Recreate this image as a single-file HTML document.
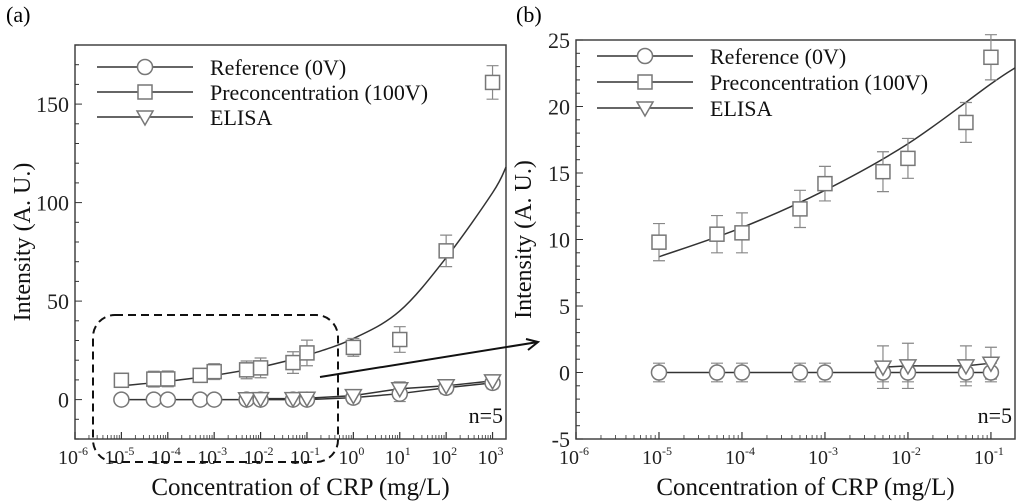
<!DOCTYPE html>
<html><head><meta charset="utf-8"><style>
html,body{margin:0;padding:0;background:#fff;}
svg{display:block;font-family:"Liberation Serif",serif;}
</style></head><body>
<svg id="chart" width="1024" height="504" viewBox="0 0 1024 504" xmlns="http://www.w3.org/2000/svg">
<text x="6" y="22" font-size="22">(a)</text>
<text x="516" y="22" font-size="22">(b)</text>
</svg>
<script>
// ---- data ----
const conc = [1e-5,5e-5,1e-4,5e-4,1e-3,5e-3,1e-2,5e-2,1e-1,1,10,100,1000];
const refVals = [0,0,0,0,0,0,0,0,0,1,3,6,8.5];
const refErr = [0.7,0.7,0.7,0.7,0.7,0.7,0.7,0.7,0.7,3,4,3,3];
const elisaConc = [5e-3,1e-2,5e-2,1e-1,1,10,100,1000];
const elisaVals = [0.4,0.5,0.5,0.7,2,5.5,7,9.5];
const elisaErrA = [3,3,3,3,3,3.5,3,3];
const elisaErrB = [1.6,1.7,1.5,1.2,3,3,3,3];
const preVals = [9.8,10.4,10.5,12.3,14.2,15.1,16.1,18.8,23.7,26.5,30.5,75.5,161];
const preErrA = [3.5,4,4,3.5,4,4.5,5,5.5,6.5,4.5,6.5,8,8.5];
const preErrB = [1.4,1.4,1.5,1.4,1.3,1.5,1.5,1.5,1.7,3,5,8,8.5];
const fitLogXA = [-5,-4,-3,-2,-1,0,1,2,3,3.29];
const fitValsA = [7,9.3,12.3,16.5,22.5,31,45,72,105,118];
const fitLogXB = [-5,-4,-3,-2,-1,-0.71];
const fitValsB = [8.7,10.9,13.7,17.2,21.7,22.9];
const tickA = [0,50,100,150];
const tickB = [-5,0,5,10,15,20,25];
const decadesA = [-6,-5,-4,-3,-2,-1,0,1,2,3];
const decadesB = [-6,-5,-4,-3,-2,-1];

const NS="http://www.w3.org/2000/svg";
const svg=document.getElementById('chart');
function mk(tag,attrs,parent){const e=document.createElementNS(NS,tag);for(const k in attrs)e.setAttribute(k,attrs[k]);(parent||svg).appendChild(e);return e;}

function panel(cfg){
  const g=mk('g',{});
  
  
  const X=v=>cfg.x0+(Math.log10(v)-cfg.lmin)*(cfg.x1-cfg.x0)/(cfg.lmax-cfg.lmin);
  const XL=l=>cfg.x0+(l-cfg.lmin)*(cfg.x1-cfg.x0)/(cfg.lmax-cfg.lmin);
  const Y=v=>cfg.y1-(v-cfg.ymin)*(cfg.y1-cfg.y0)/(cfg.ymax-cfg.ymin);
  const fr=mk('rect',{x:cfg.x0,y:cfg.y0,width:cfg.x1-cfg.x0,height:cfg.y1-cfg.y0,fill:'none',stroke:'#444','stroke-width':1.5},g);
  
  
  for(let v=cfg.ymin;v<=cfg.ymax+1e-9;v+=cfg.ymin_step){
    const major=Math.abs(v/cfg.ymaj-Math.round(v/cfg.ymaj))<1e-6;
    mk('line',{x1:cfg.x0,x2:cfg.x0+(major?7:4),y1:Y(v),y2:Y(v),stroke:'#333','stroke-width':1},g);
  }
  cfg.yticks.forEach(v=>{
    const t=mk('text',{x:cfg.x0-6,y:Y(v)+8,'font-size':22,'text-anchor':'end',fill:'#222'},g);
    t.textContent=v;
    
    
  });
  cfg.decades.forEach(d=>{
    mk('line',{x1:XL(d),x2:XL(d),y1:cfg.y1,y2:cfg.y1-7,stroke:'#333','stroke-width':1.2},g);
    for(let m=2;m<=9;m++){const l=d+Math.log10(m);if(l<=cfg.lmax)mk('line',{x1:XL(l),x2:XL(l),y1:cfg.y1,y2:cfg.y1-4,stroke:'#333','stroke-width':0.8},g);}
    const t=mk('text',{x:XL(d)-2,y:cfg.y1+25,'font-size':20,'text-anchor':'middle',fill:'#222'},g);
    t.textContent='10';
    const s=mk('tspan',{dy:-9,'font-size':12},t);s.textContent=String(d);
    
    
  });
  const xt=mk('text',{x:(cfg.x0+cfg.x1)/2+10,y:cfg.y1+56,'font-size':25,'text-anchor':'middle',fill:'#111'},g);
  xt.textContent='Concentration of CRP (mg/L)';
  
  
  const yt=mk('text',{x:0,y:0,'font-size':24,'text-anchor':'middle',fill:'#111',transform:`translate(${cfg.x0-45},${(cfg.y0+cfg.y1)/2}) rotate(-90)`},g);
  yt.textContent='Intensity (A. U.)';
  
  
  const n=mk('text',{x:cfg.x1-3,y:cfg.y1-16,'font-size':22,'text-anchor':'end',fill:'#111'},g);
  n.textContent='n=5';
  
  
  const inR=v=>Math.log10(v)<=cfg.lmax;
  const pts=cfg.fitX.map((l,i)=>[XL(l),Y(cfg.fitV[i])]);
  let d=`M${pts[0][0]},${pts[0][1]}`;
  for(let i=0;i<pts.length-1;i++){const p0=pts[Math.max(0,i-1)],p1=pts[i],p2=pts[i+1],p3=pts[Math.min(pts.length-1,i+2)];
    d+=` C${p1[0]+(p2[0]-p0[0])/6},${p1[1]+(p2[1]-p0[1])/6} ${p2[0]-(p3[0]-p1[0])/6},${p2[1]-(p3[1]-p1[1])/6} ${p2[0]},${p2[1]}`;}
  const fit=mk('path',{d:d,fill:'none',stroke:'#333','stroke-width':1.5},g);
  
  
  function line(xs,ys,name){const p=xs.map((x,i)=>[x,ys[i]]).filter(p=>inR(p[0])).map(p=>`${X(p[0])},${Y(p[1])}`).join(' ');
    const l=mk('polyline',{points:p,fill:'none',stroke:'#333','stroke-width':1.5},g);
    
    }
  line(conc,refVals,'reference-line');
  line(elisaConc,elisaVals,'elisa-line');
  function err(xs,ys,es,name){xs.forEach((x,i)=>{if(!inR(x))return;const cx=X(x);
    const e=mk('path',{d:`M${cx},${Y(ys[i]-es[i])}V${Y(ys[i]+es[i])}M${cx-6},${Y(ys[i]-es[i])}h12M${cx-6},${Y(ys[i]+es[i])}h12`,stroke:'#888','stroke-width':1.2,fill:'none'},g);
    
    });}
  err(conc,refVals,cfg.refErr,'reference-error-bar');
  err(elisaConc,elisaVals,cfg.elisaErr,'elisa-error-bar');
  err(conc,preVals,cfg.preErr,'preconcentration-error-bar');
  function marker(type,cx,cy,parent){
    if(type==='c')return mk('circle',{cx:cx,cy:cy,r:7.5,fill:'#fff',stroke:'#777','stroke-width':1.5},parent);
    if(type==='s')return mk('rect',{x:cx-7,y:cy-7,width:14,height:14,fill:'#fff',stroke:'#777','stroke-width':1.5},parent);
    return mk('path',{d:`M${cx-8},${cy-6}L${cx+8},${cy-6}L${cx},${cy+8}Z`,fill:'#fff',stroke:'#777','stroke-width':1.5},parent);
  }
  conc.forEach((x,i)=>{if(!inR(x))return;const m=marker('c',X(x),Y(refVals[i]),g);
    
    });
  elisaConc.forEach((x,i)=>{if(!inR(x))return;const m=marker('t',X(x),Y(elisaVals[i]),g);
    
    });
  conc.forEach((x,i)=>{if(!inR(x))return;const m=marker('s',X(x),Y(preVals[i]),g);
    
    });
  const lg=mk('g',{},g);
  
  
  [['c','Reference (0V)'],['s','Preconcentration (100V)'],['t','ELISA']].forEach((e,i)=>{
    const y=cfg.legY+i*cfg.legDy;
    const eg=mk('g',{},lg);
    
    
    mk('line',{x1:cfg.legX,x2:cfg.legX+96,y1:y,y2:y,stroke:'#333','stroke-width':1.5},eg);
    marker(e[0],cfg.legX+48,y,eg);
    const t=mk('text',{x:cfg.legX+113,y:y+8,'font-size':22,fill:'#111'},eg);t.textContent=e[1];
  });
}
panel({name:'panel-a-chart',x0:75,x1:506,y0:45,y1:439,lmin:-6,lmax:3.29,ymin:-20,ymax:180,ymin_step:10,ymaj:50,yticks:tickA,decades:decadesA,
  refErr:refErr.map(v=>Math.max(v,2.5)),elisaErr:elisaErrA,preErr:preErrA,legX:97,legY:67,legDy:25,fitX:fitLogXA,fitV:fitValsA});
panel({name:'panel-b-chart',x0:576,x1:1015,y0:40,y1:439,lmin:-6,lmax:-0.71,ymin:-5,ymax:25,ymin_step:1,ymaj:5,yticks:tickB,decades:decadesB,
  refErr:refErr,elisaErr:elisaErrB,preErr:preErrB,legX:597,legY:56,legDy:26,fitX:fitLogXB,fitV:fitValsB});
const box=mk('rect',{x:93,y:315,width:245,height:147,rx:22,ry:22,fill:'none',stroke:'#111','stroke-width':2,'stroke-dasharray':'8,5'});


const ar=mk('path',{d:'M320,377 L538,342 M526,339 L538,342 L528,350',fill:'none',stroke:'#111','stroke-width':2});


</script>
</body></html>
